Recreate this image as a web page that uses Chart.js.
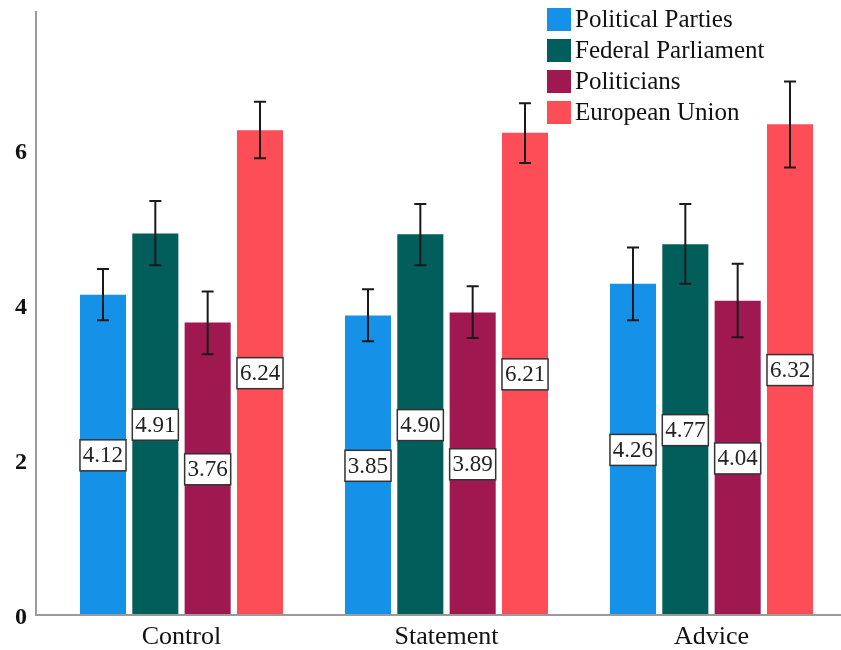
<!DOCTYPE html>
<html>
<head>
<meta charset="utf-8">
<script src="https://cdn.jsdelivr.net/npm/chart.js@4.4.0/dist/chart.umd.min.js"></script>
<style>
  html, body { margin: 0; padding: 0; background: #fff; overflow: hidden; }
  #wrap { width: 850px; height: 650px; }
</style>
</head>
<body>
<div id="wrap"><canvas id="c" width="850" height="650"></canvas></div>
<script>
// Conditions on the x axis
const categories = ['Control', 'Statement', 'Advice'];
const seriesNames = ['Political Parties', 'Federal Parliament', 'Politicians', 'European Union'];

// Mean trust per institution
const politicalParties  = [4.12, 3.85, 4.26];
const federalParliament = [4.91, 4.90, 4.77];
const politicians       = [3.76, 3.89, 4.04];
const europeanUnion     = [6.24, 6.21, 6.32];

// Error bar bounds (lower / upper)
const politicalPartiesLow  = [3.79, 3.52, 3.79];
const politicalPartiesHigh = [4.45, 4.19, 4.73];
const federalParliamentLow  = [4.50, 4.50, 4.26];
const federalParliamentHigh = [5.33, 5.29, 5.29];
const politiciansLow  = [3.35, 3.56, 3.57];
const politiciansHigh = [4.16, 4.23, 4.52];
const europeanUnionLow  = [5.88, 5.82, 5.76];
const europeanUnionHigh = [6.61, 6.59, 6.87];

const yTicks = [0, 2, 4, 6];

const colors = ['#1591e8', '#015e5a', '#a01850', '#fd4d57'];
const values = [politicalParties, federalParliament, politicians, europeanUnion];
const lows = [politicalPartiesLow, federalParliamentLow, politiciansLow, europeanUnionLow];
const highs = [politicalPartiesHigh, federalParliamentHigh, politiciansHigh, europeanUnionHigh];

const SERIF = '"Liberation Serif", "Times New Roman", serif';

// Axis lines, error bars, boxed value labels and the legend
const overlay = {
  id: 'overlay',
  afterDatasetsDraw(chart) {
    const { ctx, chartArea, scales } = chart;
    const y = scales.y;
    ctx.save();

    // axis lines
    ctx.strokeStyle = '#9a9a9a';
    ctx.lineWidth = 2;
    ctx.beginPath();
    ctx.moveTo(36, chartArea.top);
    ctx.lineTo(36, chartArea.bottom + 1);
    ctx.lineTo(chart.width, chartArea.bottom + 1);
    ctx.stroke();

    chart.data.datasets.forEach((ds, di) => {
      const meta = chart.getDatasetMeta(di);
      meta.data.forEach((bar, i) => {
        const x = bar.x;
        const w = bar.width;
        // value label box at mid-height of the bar
        const v = ds.data[i];
        const midY = (bar.y + bar.base) / 2;
        const bw = w, bh = 31;
        ctx.fillStyle = '#ffffff';
        ctx.fillRect(x - bw / 2, midY - bh / 2 + 1, bw, bh);
        ctx.strokeStyle = '#333333';
        ctx.lineWidth = 1.5;
        ctx.strokeRect(x - bw / 2, midY - bh / 2 + 1, bw, bh);
        ctx.fillStyle = '#222222';
        ctx.font = '23px ' + SERIF;
        ctx.textAlign = 'center';
        ctx.textBaseline = 'middle';
        ctx.fillText(v.toFixed(2), x, midY + 2);

        // error bar
        const yl = y.getPixelForValue(ds.lows[i]);
        const yh = y.getPixelForValue(ds.highs[i]);
        ctx.strokeStyle = '#1a1a1a';
        ctx.lineWidth = 2;
        ctx.beginPath();
        ctx.moveTo(x, yl); ctx.lineTo(x, yh);
        ctx.moveTo(x - 6, yl); ctx.lineTo(x + 6, yl);
        ctx.moveTo(x - 6, yh); ctx.lineTo(x + 6, yh);
        ctx.stroke();
      });
    });

    // legend
    ctx.font = '25px ' + SERIF;
    ctx.textAlign = 'left';
    ctx.textBaseline = 'middle';
    chart.data.datasets.forEach((ds, di) => {
      const top = 8 + di * 31;
      ctx.fillStyle = ds.backgroundColor;
      ctx.fillRect(547, top, 24, 23);
      ctx.fillStyle = '#111111';
      ctx.fillText(ds.label, 575, top + 12);
    });

    ctx.restore();
  }
};

new Chart(document.getElementById('c'), {
  type: 'bar',
  data: {
    labels: categories,
    datasets: seriesNames.map((name, k) => ({
      label: name,
      data: values[k],
      lows: lows[k],
      highs: highs[k],
      backgroundColor: colors[k],
      borderWidth: 0,
      categoryPercentage: 0.79,
      barPercentage: 0.88
    }))
  },
  options: {
    responsive: false,
    animation: false,
    layout: { padding: { top: 11, right: 6, left: 0, bottom: 0 } },
    plugins: { legend: { display: false }, tooltip: { enabled: false } },
    scales: {
      x: {
        grid: { display: false, drawTicks: false },
        border: { display: false },
        ticks: { color: '#111', font: { family: SERIF, size: 26 }, padding: 8 },
        afterFit: s => { s.height = 36; }
      },
      y: {
        min: 0,
        max: 7.78,
        grid: { display: false, drawTicks: false },
        border: { display: false },
        afterBuildTicks: s => { s.ticks = yTicks.map(v => ({ value: v })); },
        ticks: { color: '#111', font: { family: SERIF, size: 24, weight: 'bold' }, padding: 22, labelOffset: 4 },
        afterFit: s => { s.width = 49; s.paddingTop = 0; s.paddingBottom = 0; }
      }
    }
  },
  plugins: [overlay]
});
</script>
</body>
</html>
